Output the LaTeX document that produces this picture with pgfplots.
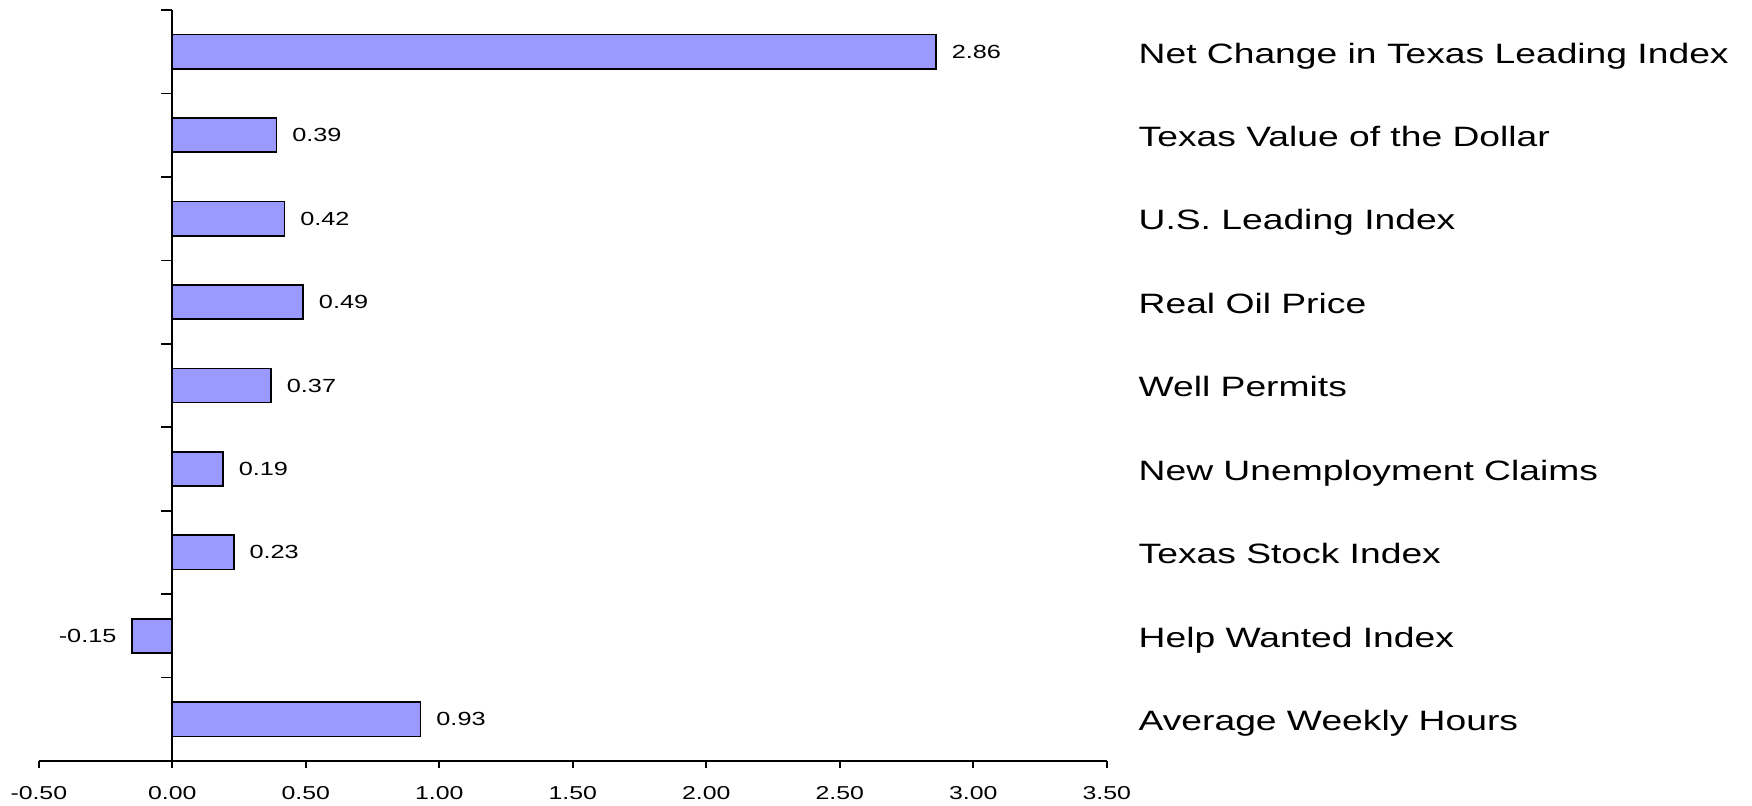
\documentclass[border=0pt]{standalone}
\usepackage{pgfplots}
\pgfplotsset{compat=1.18}
\usepackage{fontspec}
\setmainfont{Liberation Sans}
\newfontfamily\sfx[FakeStretch=1.33]{Liberation Sans}
\definecolor{barblue}{HTML}{9999FF}

\begin{document}
\begin{tikzpicture}[x=1pt,y=1pt]
\path[use as bounding box] (0,0) rectangle (525.6,241.5);
\begin{axis}[
  at={(11.64pt,13.2pt)}, anchor=south west,
  scale only axis, width=320.4pt, height=225.3pt,
  xmin=-0.5, xmax=3.5, ymin=0, ymax=9,
  axis x line=bottom, axis y line=center,
  axis line style={-, black, line width=0.6pt},
  xtick={-0.5,0,0.5,1,1.5,2,2.5,3,3.5}, ytick={1,2,3,4,5,6,7,8,9}, yticklabels={},
  tick align=outside,
  xtick style={black, line width=0.5pt, /pgfplots/major tick length=2.1pt},
  ytick style={black, line width=0.5pt, /pgfplots/major tick length=3.3pt},
  xticklabel style={font=\fontsize{5.6}{6}\sfx, yshift=-2.2pt, inner ysep=1pt,
    /pgf/number format/fixed, /pgf/number format/fixed zerofill,
    /pgf/number format/precision=2, /pgf/number format/assume math mode=true},
  xbar, bar width=0.41,
  nodes near coords={\pgfmathprintnumber[fixed,fixed zerofill,precision=2,assume math mode=true]{\pgfplotspointmeta}},
  every node near coord/.append style={font=\fontsize{5.7}{6}\sfx, inner xsep=4.5pt, black},
  clip=false,
]
\addplot[fill=barblue, draw=black, line width=0.5pt] coordinates {
(0.93,0.5) (-0.15,1.5) (0.23,2.5) (0.19,3.5) (0.37,4.5) (0.49,5.5) (0.42,6.5) (0.39,7.5) (2.86,8.5)};
\tikzset{catlab/.style={anchor=base west, inner sep=0pt, font=\fontsize{8.4}{9}\sfx, xshift=9.36pt, yshift=-3.4pt}}
\node[catlab] at (axis cs:3.5,8.5) {Net Change in Texas Leading Index};
\node[catlab] at (axis cs:3.5,7.5) {Texas Value of the Dollar};
\node[catlab] at (axis cs:3.5,6.5) {U.S. Leading Index};
\node[catlab] at (axis cs:3.5,5.5) {Real Oil Price};
\node[catlab] at (axis cs:3.5,4.5) {Well Permits};
\node[catlab] at (axis cs:3.5,3.5) {New Unemployment Claims};
\node[catlab] at (axis cs:3.5,2.5) {Texas Stock Index};
\node[catlab] at (axis cs:3.5,1.5) {Help Wanted Index};
\node[catlab] at (axis cs:3.5,0.5) {Average Weekly Hours};
\end{axis}
\end{tikzpicture}
\end{document}
